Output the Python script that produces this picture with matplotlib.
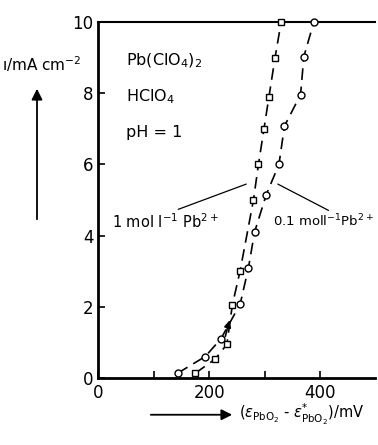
import matplotlib
matplotlib.use("Agg")
import matplotlib.pyplot as plt

# 1 mol/l Pb2+ (squares)
sq_x = [175, 211, 232, 242, 256, 280, 289, 299, 308, 319, 330]
sq_y = [0.14, 0.54, 0.95, 2.06, 3.02, 5.0, 6.0, 7.0, 7.9, 9.0, 10.0]
# 0.1 mol/l Pb2+ (circles)
ci_x = [143, 193, 221, 256, 271, 282, 303, 326, 336, 365, 371, 389]
ci_y = [0.14, 0.61, 1.10, 2.08, 3.1, 4.1, 5.15, 6.0, 7.08, 7.96, 9.03, 10.0]

xticks = [0, 100, 200, 300, 400]
xticklabels = ["0", "", "200", "", "400"]
yticks = [0, 2, 4, 6, 8, 10]

plt.rcParams['font.family'] = ['DejaVu Sans']
fig = plt.figure(figsize=(3.78, 4.45), dpi=100)
ax = fig.add_axes([0.260, 0.150, 0.733, 0.8006])

dash = (0, (7, 4))
ax.plot(sq_x, sq_y, color='black', lw=1.2, linestyle=dash, marker='s', ms=4.5,
        mfc='white', mec='black', mew=1.0, zorder=3, clip_on=False)
ax.plot(ci_x, ci_y, color='black', lw=1.2, linestyle=dash, marker='o', ms=5,
        mfc='white', mec='black', mew=1.0, zorder=3, clip_on=False)

ax.set_xlim(0, 500)
ax.set_ylim(0, 10)
ax.set_xticks(xticks)
ax.set_xticklabels(xticklabels)
ax.set_yticks(yticks)
ax.tick_params(direction='in', length=5, width=1.2, labelsize=12)
ax.tick_params(axis='x', pad=4)
ax.spines['right'].set_visible(False)
for s in ['left', 'bottom']:
    ax.spines[s].set_linewidth(2.0)
ax.spines['top'].set_linewidth(1.5)

# small arrow on the lower part of curve
ax.annotate('', xy=(238, 1.7), xytext=(228, 1.1),
            arrowprops=dict(arrowstyle='-|>', color='black', lw=1.2, mutation_scale=10))

# conditions text
ax.text(50, 8.9, r"Pb(ClO$_4$)$_2$", fontsize=11.5, va='center')
ax.text(50, 7.9, r"HClO$_4$", fontsize=11.5, va='center')
ax.text(50, 6.9, "pH = 1", fontsize=11.5, va='center')

# leader lines and labels
ax.annotate("1 mol l$^{-1}$ Pb$^{2+}$", xy=(267, 5.45), xytext=(25, 4.4),
            fontsize=10.5, va='center',
            arrowprops=dict(arrowstyle='-', color='black', lw=0.9,
                            shrinkA=0, shrinkB=0, relpos=(0.55, 1.0)))
ax.annotate("0.1 moll$^{-1}$Pb$^{2+}$", xy=(324, 5.45), xytext=(316, 4.4),
            fontsize=9.5, va='center',
            arrowprops=dict(arrowstyle='-', color='black', lw=0.9,
                            shrinkA=0, shrinkB=0, relpos=(0.6, 1.0)))

# axis labels with arrows
fig.text(0.005, 0.855, "ı/mA cm$^{-2}$", fontsize=11, va='center')
fig.add_artist(matplotlib.patches.FancyArrowPatch(
    (37 / 378, 1 - 222 / 445), (37 / 378, 1 - 86 / 445),
    transform=fig.transFigure, arrowstyle='-|>', mutation_scale=16, color='black', lw=1.3))
fig.text(0.632, 0.068, r"($\varepsilon_{\mathrm{PbO_2}}$ - $\varepsilon^{*}_{\mathrm{PbO_2}}$)/mV",
         fontsize=10.5, va='center')
fig.add_artist(matplotlib.patches.FancyArrowPatch(
    (148 / 378, 0.068), (235 / 378, 0.068),
    transform=fig.transFigure, arrowstyle='-|>', mutation_scale=16, color='black', lw=1.3))

fig.savefig("out.png", dpi=100)
